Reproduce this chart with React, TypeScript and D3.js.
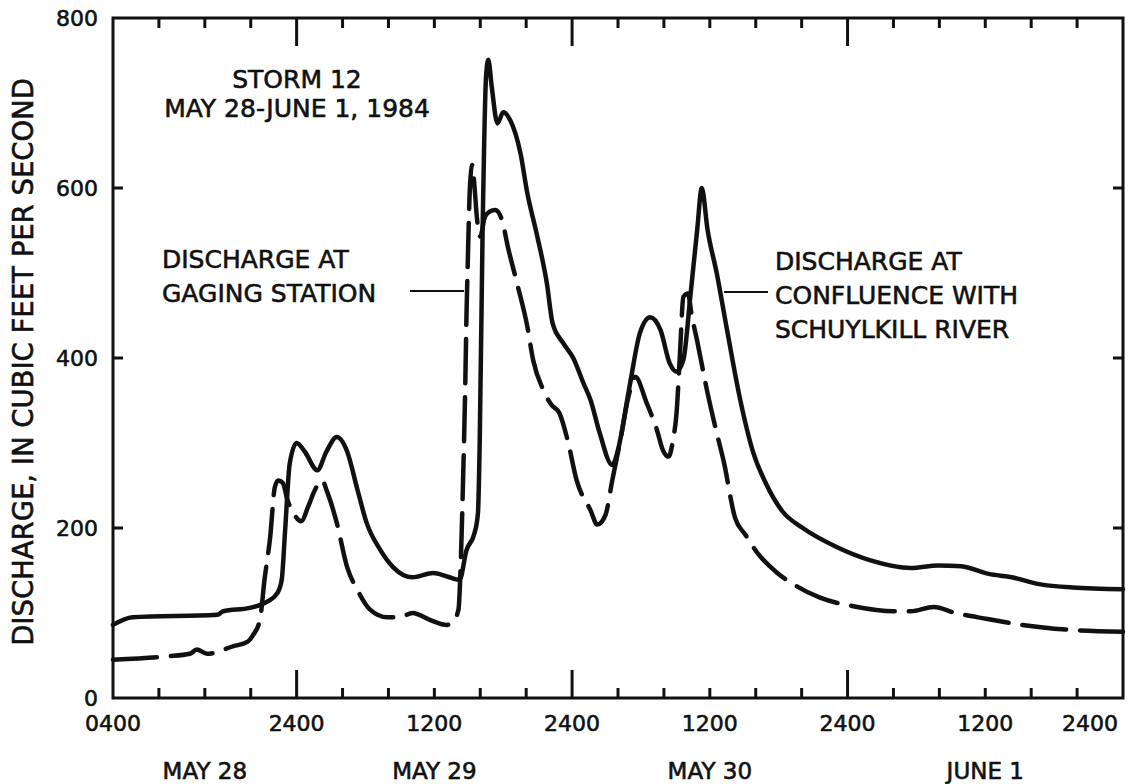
import React from 'react';
import * as d3 from 'd3';

// Hours counted from May 28 0000 (axis starts at the "0400" label)
const solidHours = [8.0, 9.7, 17.1, 17.6, 19.9, 21.4, 22.3, 22.7, 23.0, 23.4, 24.0, 24.7, 25.8, 26.6, 27.5, 28.4, 29.3, 30.1, 31.3, 32.4, 34.1, 35.9, 37.1, 38.2, 38.8, 39.5, 39.8, 39.95, 40.2, 40.5, 40.7, 41.0, 41.5, 42.0, 42.6, 43.5, 44.1, 44.9, 45.8, 46.3, 47.2, 48.1, 49.0, 49.6, 50.4, 51.5, 52.0, 53.0, 53.9, 54.8, 55.7, 56.5, 57.1, 57.7, 58.3, 58.9, 59.3, 59.8, 60.6, 61.5, 62.6, 63.8, 64.9, 66.3, 68.1, 71.0, 74.0, 77.5, 79.9, 81.9, 84.3, 86.3, 88.7, 91.6, 96.0];
const solidValues = [86, 95, 98, 102, 106, 113, 123, 139, 198, 276, 300, 290, 268, 290, 307, 290, 245, 206, 174, 154, 142, 147, 143, 139, 174, 194, 218, 300, 547, 730, 751, 719, 676, 689, 680, 641, 594, 547, 488, 441, 418, 400, 370, 351, 312, 274, 292, 366, 429, 448, 433, 394, 384, 398, 472, 551, 600, 551, 500, 433, 354, 288, 252, 220, 200, 178, 162, 153, 156, 155, 146, 142, 134, 130, 128];

const dashedHours = [8.0, 12.7, 14.7, 15.3, 16.2, 18.5, 19.7, 20.2, 20.8, 21.2, 21.7, 22.1, 22.4, 22.8, 23.2, 23.7, 24.4, 25.0, 25.6, 26.2, 26.7, 27.5, 28.4, 29.3, 30.4, 31.9, 33.0, 34.1, 35.6, 37.1, 37.6, 38.1, 38.3, 38.5, 38.7, 38.8, 38.9, 39.1, 39.3, 39.5, 39.7, 40.0, 40.4, 40.8, 41.3, 41.9, 42.4, 43.2, 44.1, 44.6, 45.5, 46.2, 46.9, 47.6, 48.4, 49.6, 50.2, 50.9, 51.5, 52.2, 52.9, 53.5, 54.5, 55.4, 55.9, 56.4, 56.8, 57.1, 57.4, 57.7, 58.1, 58.4, 58.9, 59.8, 60.6, 61.2, 62.2, 63.1, 64.3, 65.8, 67.5, 69.6, 72.5, 76.0, 77.5, 79.5, 81.4, 84.2, 87.2, 91.6, 96.0];
const dashedValues = [45, 49, 52, 57, 52, 61, 66, 74, 92, 139, 190, 248, 256, 253, 233, 218, 208, 225, 245, 256, 241, 206, 154, 127, 104, 95, 95, 100, 92, 86, 89, 104, 159, 256, 374, 451, 507, 601, 627, 601, 566, 543, 566, 572, 574, 562, 531, 488, 437, 398, 362, 345, 335, 304, 256, 221, 204, 215, 256, 303, 354, 378, 347, 315, 292, 284, 304, 335, 405, 472, 476, 452, 420, 359, 312, 279, 212, 192, 168, 148, 132, 118, 108, 102, 102, 107, 100, 93, 86, 80, 78];

const xTickHours = [8, 24, 36, 48, 60, 72, 84, 96];
const xTickLabels = ['0400', '2400', '1200', '2400', '1200', '2400', '1200', '2400'];
const majorTickHours = [24, 48, 72];
const minorTickHours = [12, 16, 20, 28, 32, 36, 40, 44, 52, 56, 60, 64, 68, 76, 80, 84, 88, 92];
const dateHours = [16, 36, 60, 84];
const dateLabels = ['MAY 28', 'MAY 29', 'MAY 30', 'JUNE 1'];
const yTickValues = [0, 200, 400, 600, 800];
const yInnerTicks = [200, 400, 600];

const FONT = '"DejaVu Sans", sans-serif';
const INK = '#111';

export default function App() {
  const W = 1129, H = 784;
  const x = d3.scaleLinear().domain([8, 96]).range([113, 1123]);
  const y = d3.scaleLinear().domain([0, 800]).range([698, 18]);
  const line = d3.line<[number, number]>()
    .x(d => x(d[0]))
    .y(d => y(d[1]))
    .curve(d3.curveMonotoneX);
  const solid = line(solidHours.map((h, i) => [h, solidValues[i]]));
  const dashed = line(dashedHours.map((h, i) => [h, dashedValues[i]]));
  const x0 = x(8), x1 = x(96), yTop = y(800), yBot = y(0);
  const txt = { stroke: INK, strokeWidth: 0.6 } as const;

  return (
    <svg width={W} height={H} style={{ position: 'absolute', left: 0, top: 0, background: '#fff' }}
      fontFamily={FONT} fill={INK}>
      <rect x={0} y={0} width={W} height={H} fill="#fff" />
      {/* frame */}
      <rect x={x0} y={yTop} width={x1 - x0} height={yBot - yTop} fill="none" stroke={INK} strokeWidth={3} />
      {/* x ticks */}
      {minorTickHours.map(h => (
        <g key={'m' + h}>
          <line x1={x(h)} x2={x(h)} y1={yBot} y2={yBot - 10} stroke={INK} strokeWidth={3} />
          <line x1={x(h)} x2={x(h)} y1={yTop} y2={yTop + 10} stroke={INK} strokeWidth={3} />
        </g>
      ))}
      {majorTickHours.map(h => (
        <g key={'M' + h}>
          <line x1={x(h)} x2={x(h)} y1={yBot} y2={yBot - 28} stroke={INK} strokeWidth={3} />
          <line x1={x(h)} x2={x(h)} y1={yTop} y2={yTop + 28} stroke={INK} strokeWidth={3} />
        </g>
      ))}
      {/* y ticks */}
      {yInnerTicks.map(v => (
        <g key={'y' + v}>
          <line x1={x0} x2={x0 + 10} y1={y(v)} y2={y(v)} stroke={INK} strokeWidth={3} />
          <line x1={x1} x2={x1 - 10} y1={y(v)} y2={y(v)} stroke={INK} strokeWidth={3} />
        </g>
      ))}
      <g {...txt}>
        {/* y tick labels */}
        {yTickValues.map(v => (
          <text key={'yl' + v} x={98} y={y(v)} dy="0.36em" textAnchor="end" fontSize={22}>{v}</text>
        ))}
        {/* x tick labels */}
        {xTickHours.map((h, i) => (
          <text key={'xl' + i} x={i === xTickHours.length - 1 ? x(h) - 5 : x(h)} y={731}
            textAnchor={i === xTickHours.length - 1 ? 'end' : 'middle'} fontSize={22}>{xTickLabels[i]}</text>
        ))}
        {dateHours.map((h, i) => (
          <text key={'d' + i} x={x(h)} y={779} textAnchor="middle" fontSize={23}>{dateLabels[i]}</text>
        ))}
        {/* y axis title */}
        <text transform="translate(33,362) rotate(-90)" textAnchor="middle" fontSize={27.5}>
          DISCHARGE, IN CUBIC FEET PER SECOND
        </text>
        {/* title */}
        <text x={297} y={88} textAnchor="middle" fontSize={25}>STORM 12</text>
        <text x={297} y={117} textAnchor="middle" fontSize={25}>MAY 28-JUNE 1, 1984</text>
        {/* left annotation */}
        <text x={162} y={268} fontSize={25}>DISCHARGE AT</text>
        <text x={162} y={302} fontSize={25}>GAGING STATION</text>
        {/* right annotation */}
        <text x={775} y={270} fontSize={25}>DISCHARGE AT</text>
        <text x={775} y={304} fontSize={25}>CONFLUENCE WITH</text>
        <text x={775} y={338} fontSize={25}>SCHUYLKILL RIVER</text>
      </g>
      <line x1={410} x2={464} y1={291} y2={291} stroke={INK} strokeWidth={2} />
      <line x1={724} x2={768} y1={292} y2={292} stroke={INK} strokeWidth={2} />
      {/* series */}
      <path d={dashed || ''} fill="none" stroke={INK} strokeWidth={4.5} strokeDasharray="44 14"
        strokeLinecap="round" strokeLinejoin="round" />
      <path d={solid || ''} fill="none" stroke={INK} strokeWidth={4.5}
        strokeLinecap="round" strokeLinejoin="round" />
    </svg>
  );
}
